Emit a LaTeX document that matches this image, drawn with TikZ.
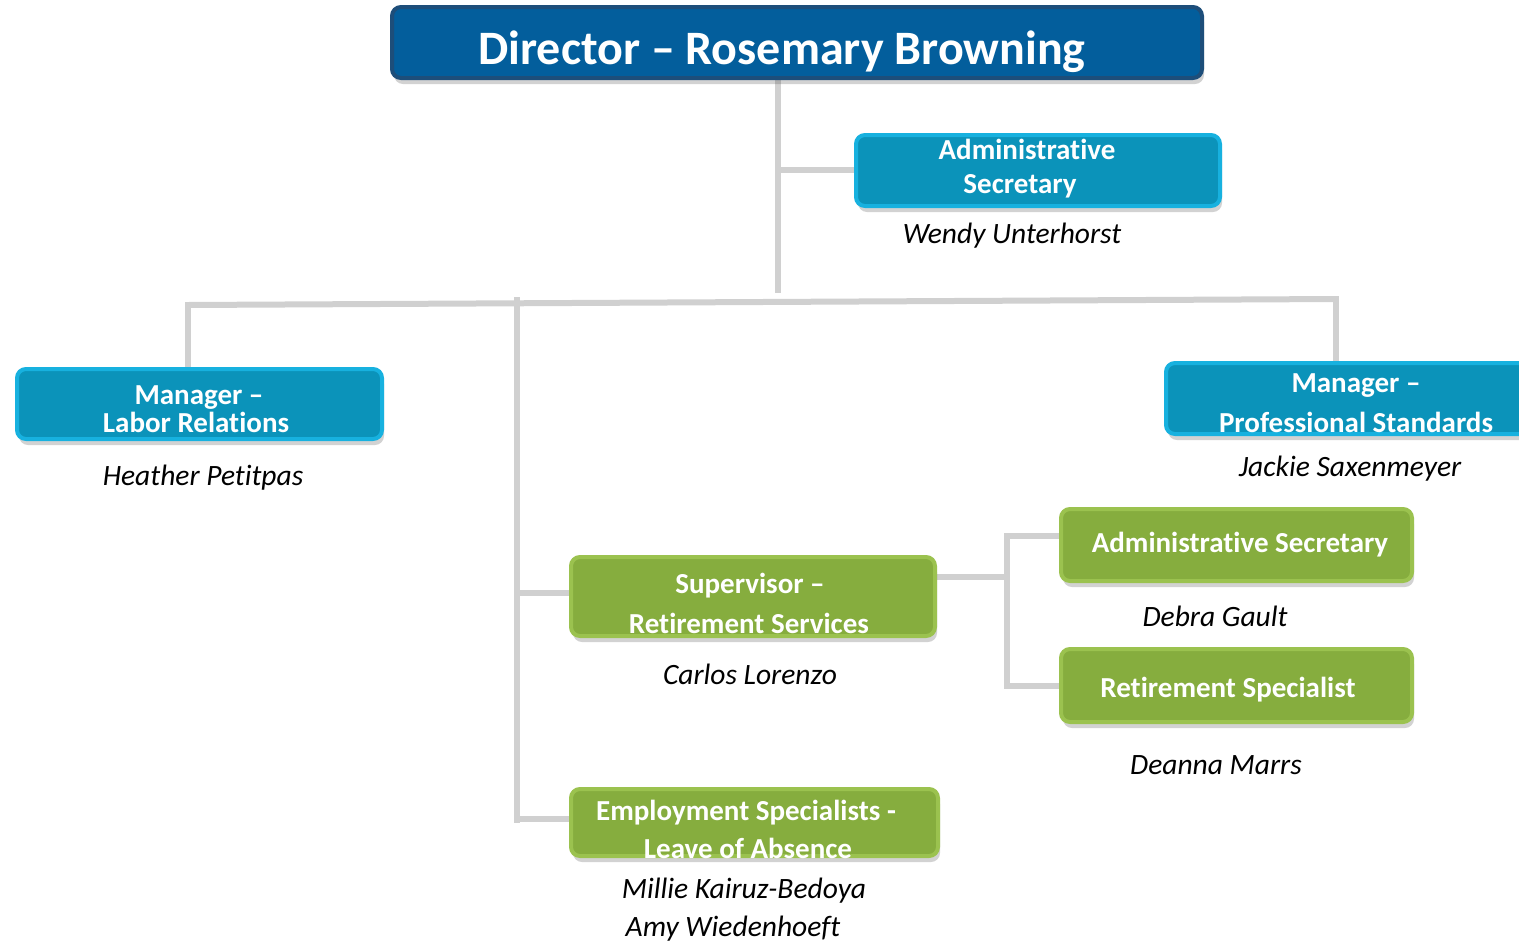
\documentclass[tikz,border=0pt]{standalone}
\usepackage{fontspec}
\setmainfont{Carlito}[Ligatures={NoCommon}]
\usetikzlibrary{shadows,backgrounds}
\definecolor{dirfill}{HTML}{035E9C}
\definecolor{dirdraw}{HTML}{1D4E7A}
\definecolor{tealfill}{HTML}{0B93BA}
\definecolor{tealdraw}{HTML}{17B1DF}
\definecolor{grnfill}{HTML}{86AD3E}
\definecolor{grndraw}{HTML}{9BC24F}
\definecolor{conn}{HTML}{D0D0D0}
\begin{document}
\begin{tikzpicture}[x=1pt,y=-1pt,
  box/.style={rectangle, rounded corners=9pt, line width=4pt, outer sep=0pt, inner sep=0pt,
    drop shadow={shadow xshift=2pt, shadow yshift=-6pt, opacity=0.25, fill=black!70}},
  dirbox/.style={box, fill=dirfill, draw=dirdraw},
  tealbox/.style={box, fill=tealfill, draw=tealdraw},
  grnbox/.style={box, fill=grnfill, draw=grndraw},
  dirtext/.style={font=\fontsize{48}{48}\selectfont\bfseries, text=white, anchor=base, inner sep=0pt},
  boxtext/.style={font=\fontsize{29}{29}\selectfont\bfseries, text=white, anchor=base, inner sep=0pt},
  nametext/.style={font=\fontsize{29.5}{29.5}\selectfont\itshape, text=black, anchor=base, inner sep=0pt},
  link/.style={draw=conn, line width=6pt}]
\useasboundingbox (0,0) rectangle (1519,943);

% boxes
\node[dirbox, minimum width=810pt, minimum height=71pt] (dir) at (797,42.5) {};
\node[tealbox, minimum width=364pt, minimum height=71pt] (adm) at (1038,170.5) {};
\node[tealbox, minimum width=365pt, minimum height=70pt] (mlr) at (199.5,404) {};
\node[tealbox, minimum width=364pt, minimum height=71pt] (mps) at (1348,398.5) {};
\node[grnbox, minimum width=364pt, minimum height=79pt] (sup) at (753,596.5) {};
\node[grnbox, minimum width=367pt, minimum height=67pt] (emp) at (754.5,822.5) {};
\node[grnbox, minimum width=351pt, minimum height=72pt] (gas) at (1236.5,545) {};
\node[grnbox, minimum width=351pt, minimum height=73pt] (rsp) at (1236.5,685.5) {};

% box texts
\node[dirtext] (dirT) at (782,64) {Director – Rosemary Browning};
\node[boxtext] (admT1) at (1027,159) {Administrative};
\node[boxtext] (admT2) at (1020,193) {Secretary};
\node[boxtext] (mlrT1) at (199,404) {Manager –};
\node[boxtext] (mlrT2) at (196,432) {Labor Relations};
\node[boxtext] (mpsT1) at (1356,392) {Manager –};
\node[boxtext] (mpsT2) at (1356,432) {Professional Standards};
\node[boxtext] (supT1) at (750,593) {Supervisor –};
\node[boxtext] (supT2) at (749,633) {Retirement Services};
\node[boxtext] (empT1) at (746,820) {Employment Specialists -};
\node[boxtext] (empT2) at (748,858) {Leave of Absence};
\node[boxtext] (gasT) at (1240,552) {Administrative Secretary};
\node[boxtext] (rspT) at (1228,697) {Retirement Specialist};

% names
\node[nametext] (nWendy) at (1012,243) {Wendy Unterhorst};
\node[nametext] (nHeather) at (203,485) {Heather Petitpas};
\node[nametext] (nJackie) at (1350,476) {Jackie Saxenmeyer};
\node[nametext] (nDebra) at (1215,626) {Debra Gault};
\node[nametext] (nCarlos) at (750,684) {Carlos Lorenzo};
\node[nametext] (nDeanna) at (1216,774) {Deanna Marrs};
\node[nametext] (nMillie) at (744,898) {Millie Kairuz-Bedoya};
\node[nametext] (nAmy) at (733,936) {Amy Wiedenhoeft};

% junction coordinates
\coordinate (jTop) at (778,293);
\coordinate (jAdm) at (778,170);
\coordinate (jL) at (188,305);
\coordinate (jR) at (1336,299);
\coordinate (jMidTop) at (517,297);
\coordinate (jMidBot) at (517,823);
\coordinate (jSup) at (517,593);
\coordinate (jEmp) at (517,819);
\coordinate (jRT) at (1007,536);
\coordinate (jRB) at (1007,686);
\coordinate (jRM) at (1007,577);

\begin{scope}[on background layer]
\draw[link] (dir.south -| jTop) -- (jTop);
\draw[link] (jAdm) -- (adm.west |- jAdm);
\draw[link] (jL) -- (jR);
\draw[link] ([yshift=3pt]jL) -- (mlr.north -| jL);
\draw[link] ([yshift=3pt]jR) -- (mps.north -| jR);
\draw[link] (jMidTop) -- (jMidBot);
\draw[link] (jSup) -- (sup.west |- jSup);
\draw[link] (jEmp) -- (emp.west |- jEmp);
\draw[link] (sup.east |- jRM) -- (jRM);
\draw[link] ([yshift=3pt]jRT) -- ([yshift=-3pt]jRB);
\draw[link] ([xshift=-3pt]jRT) -- (gas.west |- jRT);
\draw[link] ([xshift=-3pt]jRB) -- (rsp.west |- jRB);
\end{scope}
\end{tikzpicture}
\end{document}
